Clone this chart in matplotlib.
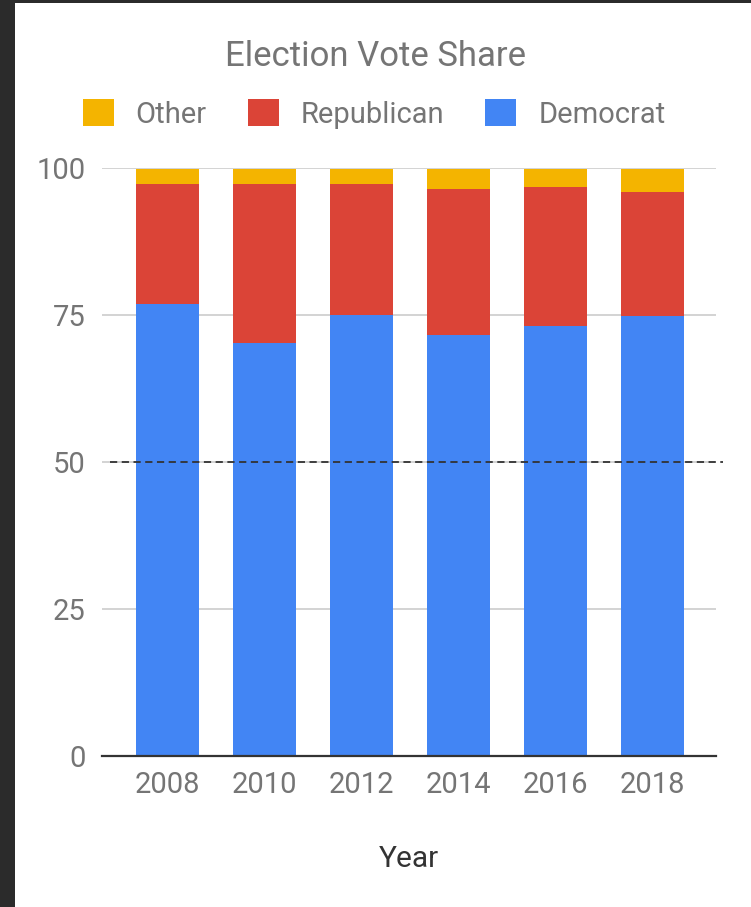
import matplotlib
matplotlib.use('Agg')
import matplotlib.pyplot as plt
from matplotlib.patches import Rectangle, Patch
import numpy as np

plt.rcParams['font.family'] = ['Roboto', 'DejaVu Sans']

# Data
years = ['2008', '2010', '2012', '2014', '2016', '2018']
democrat = [76.9, 70.2, 75.0, 71.6, 73.1, 74.8]
republican = [20.3, 27.0, 22.2, 24.8, 23.7, 21.1]
other = [2.5, 2.6, 2.5, 3.3, 2.9, 3.8]
yticks = [0, 25, 50, 75, 100]
threshold = 50

c_dem = '#4285F4'
c_rep = '#DB4437'
c_oth = '#F4B400'
grey_txt = '#757575'

fig = plt.figure(figsize=(7.51, 9.07), dpi=100)
fig.patch.set_facecolor('white')

# dark window border on left and top
fig.patches.append(Rectangle((0, 0), 15 / 751, 1, transform=fig.transFigure,
                             facecolor='#2b2b2b', edgecolor='none', zorder=-1))
fig.patches.append(Rectangle((0, 1 - 3 / 907), 1, 3 / 907, transform=fig.transFigure,
                             facecolor='#2b2b2b', edgecolor='none', zorder=-1))

ax = fig.add_axes([102 / 751, 1 - 755.7 / 907, (716 - 102) / 751, (755.7 - 167.7) / 907])

x = np.arange(len(years))
w = 0.65
dem = np.array(democrat)
rep = np.array(republican)
oth = np.array(other)

ax.bar(x, dem, width=w, color=c_dem, zorder=3)
ax.bar(x, rep, width=w, bottom=dem, color=c_rep, zorder=3)
ax.bar(x, oth, width=w, bottom=dem + rep, color=c_oth, zorder=3)

ax.set_xlim(-0.67, 5.65)
ax.set_ylim(0, 100)
ax.set_yticks(yticks)
ax.set_xticks(x)
ax.set_xticklabels(years)

for s in ['top', 'right', 'left']:
    ax.spines[s].set_visible(False)
ax.spines['bottom'].set_color('#333333')
ax.spines['bottom'].set_linewidth(1.6)
ax.spines['bottom'].set_zorder(4)

ax.yaxis.grid(True, color='#cccccc', linewidth=1.2, zorder=0)
ax.tick_params(axis='both', length=0, labelsize=21, labelcolor=grey_txt)
ax.tick_params(axis='y', pad=12)
ax.tick_params(axis='x', pad=11)

# dashed 50% line
ax.plot([-0.587, 5.72], [threshold, threshold], linestyle=(0, (4, 2.5)),
        color='#333333', linewidth=1.3, clip_on=False, zorder=5)

ax.set_xlabel('Year', fontsize=21.5, color='#333333', labelpad=33)

fig.text(0.5, 1 - 57 / 907, 'Election Vote Share', ha='center', va='center',
         fontsize=25, color=grey_txt)

handles = [Patch(facecolor=c_oth, edgecolor='none', label='Other'),
           Patch(facecolor=c_rep, edgecolor='none', label='Republican'),
           Patch(facecolor=c_dem, edgecolor='none', label='Democrat')]
leg = fig.legend(handles=handles, loc='center', bbox_to_anchor=(374 / 751, 1 - 114 / 907),
                 ncol=3, frameon=False, fontsize=21, handlelength=1.07, handleheight=1.05,
                 handletextpad=0.75, columnspacing=1.4, borderpad=0)
for t in leg.get_texts():
    t.set_color(grey_txt)

fig.savefig('out.png', dpi=100, facecolor='white')
